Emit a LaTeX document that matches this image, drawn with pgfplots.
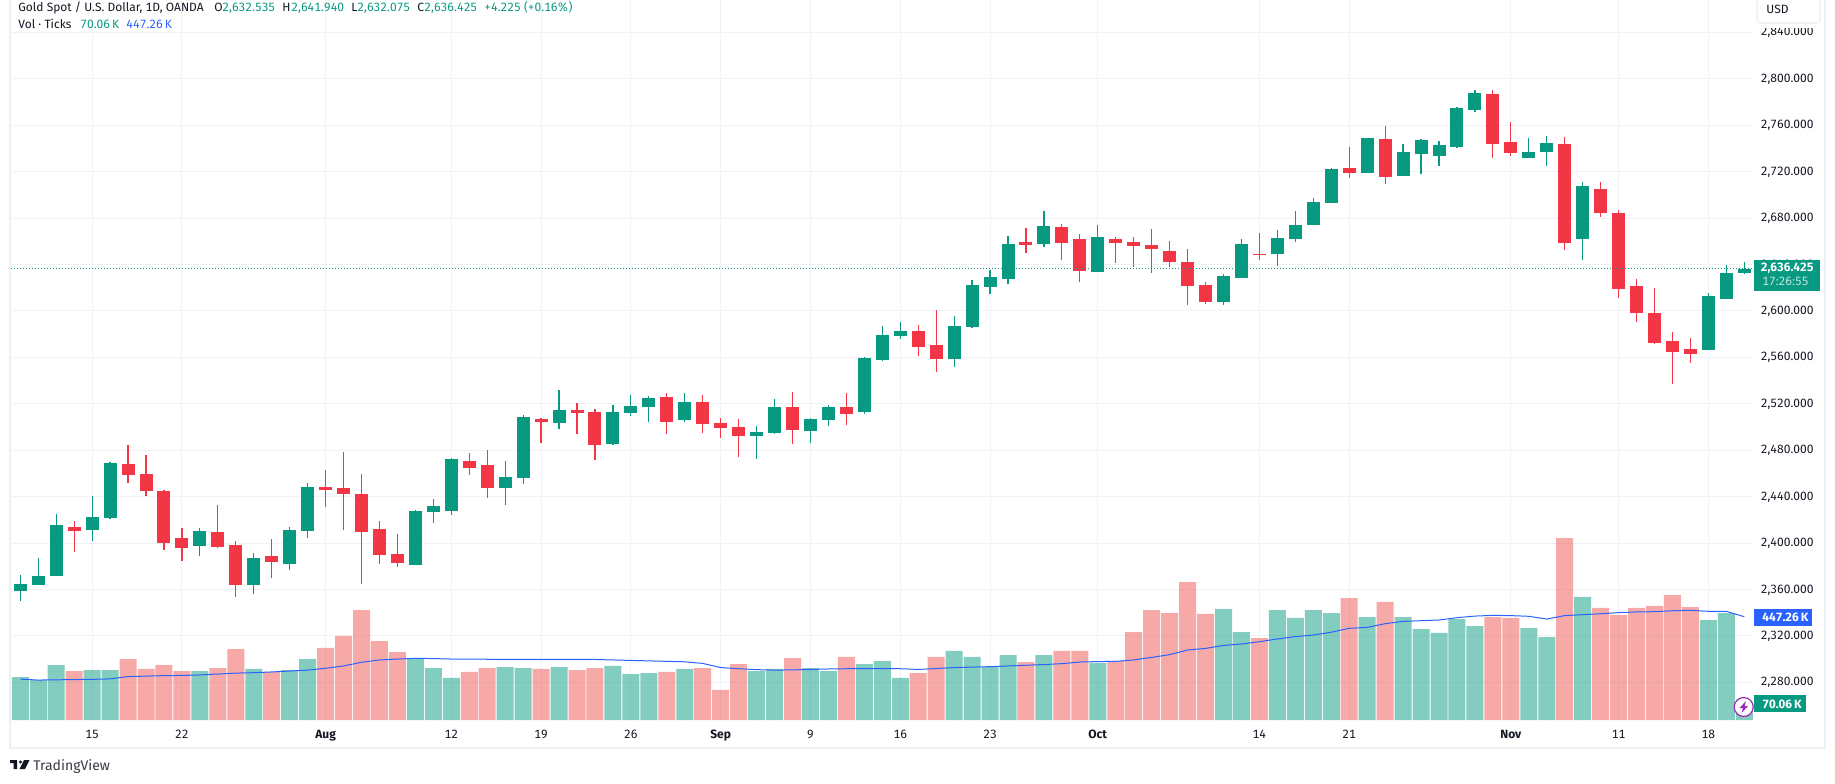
\documentclass[border=0pt]{standalone}
\usepackage{pgfplots}
\usepackage{pgfplotstable}
\usepackage{fontspec}
\pgfplotsset{compat=1.18}
\setmainfont{Fira Sans}[Numbers={Lining,Monospaced}]
\definecolor{upcol}{HTML}{089981}
\definecolor{downcol}{HTML}{F23645}
\definecolor{voldown}{HTML}{EF5350}
\definecolor{gridcol}{HTML}{F1F2F6}
\definecolor{framecol}{HTML}{EEEEF4}
\definecolor{textcol}{HTML}{131722}
\definecolor{macol}{HTML}{2962FF}
\definecolor{boltcol}{HTML}{9C27B0}

% one reference pixel = 0.5pt
\newcommand{\chartfont}{\fontsize{6}{7}\selectfont}

% daily candles, i = trading day, v = volume in K
\pgfplotstableread{
i o h l c v
0 2358.6 2372.4 2350.0 2364.7 186
1 2363.8 2387.1 2363.5 2371.6 173
2 2371.6 2425.0 2371.3 2415.5 238
4 2411.2 2440.5 2401.7 2422.4 216
5 2421.5 2469.8 2420.7 2468.9 216
10 2397.4 2412.9 2388.8 2410.3 212
13 2363.8 2391.4 2356.1 2387.1 221
15 2381.9 2413.8 2376.7 2411.2 216
16 2410.3 2451.7 2404.3 2448.2 264
22 2381.1 2428.4 2380.9 2427.6 268
23 2426.7 2437.9 2417.2 2431.9 225
24 2427.6 2473.2 2424.1 2472.4 182
27 2447.4 2470.7 2432.8 2456.9 229
28 2456.1 2510.3 2450.9 2508.6 225
30 2503.4 2531.9 2498.3 2514.6 229
33 2485.3 2518.9 2484.5 2512.9 234
34 2512.0 2527.6 2509.5 2518.1 199
35 2517.2 2526.7 2504.3 2525.0 203
37 2506.0 2529.3 2504.3 2521.5 221
41 2492.2 2500.9 2472.4 2495.7 212
42 2494.8 2524.1 2494.0 2517.2 221
44 2496.5 2507.7 2486.2 2506.9 225
45 2506.0 2518.9 2500.9 2517.2 212
47 2512.9 2560.3 2511.2 2559.4 242
48 2557.7 2587.0 2556.9 2579.3 255
49 2578.4 2590.4 2575.8 2582.7 182
52 2558.5 2595.6 2551.6 2586.9 299
53 2586.1 2626.6 2585.2 2622.3 273
54 2620.5 2635.2 2614.5 2629.2 229
55 2627.4 2664.5 2623.1 2657.6 281
57 2657.6 2686.0 2655.0 2673.1 281
60 2633.5 2674.0 2633.3 2663.6 247
67 2607.6 2631.7 2605.0 2630.0 481
68 2628.3 2661.9 2628.1 2657.6 381
70 2649.0 2669.6 2638.6 2662.8 476
71 2661.9 2686.0 2659.3 2673.9 442
72 2674.0 2697.2 2673.8 2693.8 476
73 2692.9 2723.1 2692.7 2722.2 463
75 2718.8 2749.1 2718.6 2748.9 446
77 2716.2 2743.7 2716.0 2736.8 446
78 2735.1 2748.0 2717.9 2747.2 394
79 2733.4 2746.3 2724.8 2742.9 377
80 2741.2 2775.6 2740.3 2774.8 437
81 2773.0 2790.3 2771.3 2787.7 407
84 2731.7 2748.9 2731.5 2736.8 398
85 2736.8 2750.6 2724.8 2744.6 359
87 2661.9 2711.0 2643.8 2707.5 533
94 2566.3 2615.4 2566.1 2612.8 433
95 2610.2 2639.5 2610.0 2632.6 463
96 2632.535 2641.94 2632.075 2636.425 70.06
}\upbars

\pgfplotstableread{
i o h l c v
3 2413.8 2419.0 2392.3 2410.3 212
6 2468.1 2484.4 2451.7 2458.6 264
7 2459.4 2475.8 2440.5 2444.8 221
8 2444.8 2445.7 2394.0 2400.0 238
9 2404.3 2412.9 2384.5 2395.7 212
11 2409.5 2432.7 2396.4 2396.6 225
12 2398.3 2401.7 2353.5 2363.8 307
14 2388.8 2403.4 2369.9 2383.6 208
17 2448.2 2462.9 2431.0 2445.7 312
18 2447.4 2478.4 2411.2 2442.2 364
19 2442.2 2459.4 2364.7 2409.5 476
20 2412.1 2419.0 2381.9 2389.7 342
21 2390.5 2407.8 2379.3 2382.8 294
25 2470.7 2477.6 2458.6 2464.7 208
26 2467.3 2480.2 2438.8 2447.4 225
29 2506.9 2507.7 2486.2 2504.3 221
31 2514.6 2520.7 2494.0 2512.0 216
32 2512.9 2515.5 2471.6 2484.5 225
36 2525.8 2529.3 2494.0 2504.3 208
38 2521.5 2527.6 2494.8 2502.6 225
39 2503.4 2507.7 2490.5 2499.1 130
40 2500.0 2506.9 2474.1 2492.2 242
43 2517.2 2530.1 2485.3 2497.4 268
46 2517.2 2529.3 2501.7 2511.2 273
50 2582.6 2587.8 2561.1 2568.9 203
51 2570.6 2600.7 2547.3 2558.5 273
56 2659.3 2671.4 2649.8 2656.7 251
58 2672.2 2674.8 2643.8 2658.4 299
59 2661.9 2666.2 2624.9 2634.3 299
61 2661.9 2663.6 2641.2 2658.4 255
62 2659.3 2663.6 2637.8 2655.9 381
63 2656.7 2670.5 2632.6 2653.3 476
64 2651.6 2660.2 2637.8 2642.1 463
65 2642.1 2653.3 2605.0 2621.4 597
66 2622.3 2624.9 2605.9 2607.6 459
69 2649.0 2667.1 2643.8 2648.1 355
74 2723.1 2741.2 2714.4 2718.8 528
76 2748.0 2759.2 2709.3 2715.3 511
82 2786.8 2790.3 2731.7 2743.7 446
83 2745.5 2762.7 2733.4 2736.0 442
86 2743.7 2749.8 2652.4 2658.4 788
88 2705.0 2711.0 2680.8 2684.3 485
89 2684.3 2686.9 2611.1 2618.8 455
90 2621.4 2627.4 2590.4 2598.1 485
91 2598.1 2619.7 2572.1 2572.3 494
92 2574.0 2581.8 2537.0 2564.5 541
93 2567.1 2576.6 2555.1 2562.8 489
}\downbars

% volume moving average, in K
\pgfplotstableread{
i ma
0 177
1 173
2 174
3 175
4 176
5 178
6 188
7 190
8 192
9 193
10 195
11 199
12 203
13 205
14 208
15 212
16 216
17 224
18 234
19 250
20 260
21 264
22 267
23 266
24 264
25 264
26 263
27 263
28 263
29 263
30 263
31 263
32 262
33 260
34 258
35 256
36 254
37 252
38 245
39 227
40 222
41 218
42 216
43 217
44 219
45 221
46 222
47 222
48 222
49 222
50 219
51 223
52 227
53 229
54 231
55 234
56 237
57 240
58 244
59 251
60 253
61 254
62 260
63 271
64 283
65 303
66 310
67 323
68 329
69 339
70 351
71 361
72 368
73 380
74 397
75 401
76 417
77 427
78 430
79 433
80 443
81 450
82 453
83 452
84 449
85 437
86 452
87 456
88 460
89 465
90 468
91 469
92 473
93 475
94 470.5
95 470.5
96 447.26
}\matable

\begin{document}
\begin{tikzpicture}
\path[use as bounding box] (0,0) rectangle (917.5pt,391.5pt);

% price pane
\begin{axis}[
    at={(5.5pt,31.5pt)}, anchor=south west,
    scale only axis, width=871pt, height=360pt,
    xmin=-0.518, xmax=96.486, ymin=2247.5, ymax=2867.83,
    axis line style={draw=none},
    major tick length=0pt,
    grid=major,
    grid style={gridcol, line width=0.5pt},
    xtick={4,9,17,24,29,34,39,44,49,54,60,69,74,83,89,94},
    xticklabels={15,22,\textbf{Aug},12,19,26,\textbf{Sep},9,16,23,\textbf{Oct},14,21,\textbf{Nov},11,18},
    xticklabel style={font=\chartfont, text=textcol, anchor=base, yshift=-9.15pt, inner sep=0pt},
    ytick={2280,2320,...,2840},
    yticklabel pos=right,
    scaled y ticks=false,
    yticklabel style={font=\chartfont, text=textcol, anchor=base east, xshift=30.5pt, yshift=-1.8pt, inner sep=0pt,
        /pgf/number format/.cd, fixed, fixed zerofill, precision=3, 1000 sep={,}, assume math mode=true},
]
\addplot[draw=none, no marks, error bars/.cd, y dir=both, y explicit, error mark=none,
    error bar style={draw=upcol, line width=0.6pt}]
    table[x=i, y=c, y error plus expr=\thisrow{h}-\thisrow{c}, y error minus expr=\thisrow{c}-\thisrow{l}] {\upbars};
\addplot[draw=none, no marks, error bars/.cd, y dir=minus, y explicit, error mark=none,
    error bar style={draw=upcol, line width=6.5pt}]
    table[x=i, y=c, y error minus expr=\thisrow{c}-\thisrow{o}] {\upbars};
\addplot[draw=none, no marks, error bars/.cd, y dir=both, y explicit, error mark=none,
    error bar style={draw=downcol, line width=0.6pt}]
    table[x=i, y=c, y error plus expr=\thisrow{h}-\thisrow{c}, y error minus expr=\thisrow{c}-\thisrow{l}] {\downbars};
\addplot[draw=none, no marks, error bars/.cd, y dir=plus, y explicit, error mark=none,
    error bar style={draw=downcol, line width=6.5pt}]
    table[x=i, y=c, y error plus expr=\thisrow{o}-\thisrow{c}] {\downbars};
% last price line
\addplot[upcol, line width=0.5pt, dash pattern=on 0.5pt off 1pt] coordinates {(-0.518,2636.425) (96.486,2636.425)};
\end{axis}

% volume pane on the same rectangle
\begin{axis}[
    at={(5.5pt,31.5pt)}, anchor=south west,
    scale only axis, width=871pt, height=360pt,
    xmin=-0.518, xmax=96.486, ymin=0, ymax=3117.6,
    hide axis,
    ybar, bar width=8.5pt, bar shift=0pt,
]
\addplot[draw=none, fill=upcol, fill opacity=0.5] table[x=i, y=v] {\upbars};
\addplot[draw=none, fill=voldown, fill opacity=0.5] table[x=i, y=v] {\downbars};
\addplot[sharp plot, macol, line width=0.5pt, mark=none] table[x=i, y=ma] {\matable};
\end{axis}

% everything below is in reference pixels, y down
\begin{scope}[x=0.5pt, y=-0.5pt, yshift=391.5pt, every node/.style={inner sep=0pt, font=\chartfont}]
% frame
\draw[framecol, line width=1pt] (10,-5) -- (10,747.5) -- (1825,747.5) -- (1825,-5);

% USD box
\fill[white] (1755,-3) rectangle (1822,28.5);
\draw[framecol, line width=0.6pt, rounded corners=2pt] (1757,-5) rectangle (1820,23);
\node[anchor=base west, text=textcol] at (1766,14) {USD};

% price and volume tags
\fill[upcol] (1754,260) rectangle (1820,291);
\node[anchor=base east, text=white] at (1814,272) {\textbf{2,636.425}};
\node[anchor=base west, text=white!75!upcol] at (1762,286) {17:26:55};
\fill[macol] (1754,609) rectangle (1812,626);
\node[anchor=base west, text=white] at (1762,621.7) {\textbf{447.26\,K}};
\draw[boltcol, fill=white, line width=0.6pt] (1743.7,707) circle (9.5);
\fill[boltcol] (1746,701) -- (1739.5,708) -- (1743,708) -- (1741.5,713) -- (1748,706) -- (1744.5,706) -- cycle;
\fill[upcol] (1754,695) rectangle (1806,712);
\node[anchor=base west, text=white] at (1762,708.3) {\textbf{70.06\,K}};

% legend
\node[anchor=base west, text=textcol] at (18,11.7) {Gold Spot / U.S. Dollar, 1D, OANDA};
\node[anchor=base west, text=textcol] at (214,11.7) {O};
\node[anchor=base west, text=upcol] at (222,11.7) {2,632.535};
\node[anchor=base west, text=textcol] at (282,11.7) {H};
\node[anchor=base west, text=upcol] at (291,11.7) {2,641.940};
\node[anchor=base west, text=textcol] at (351,11.7) {L};
\node[anchor=base west, text=upcol] at (357,11.7) {2,632.075};
\node[anchor=base west, text=textcol] at (417,11.7) {C};
\node[anchor=base west, text=upcol] at (424,11.7) {2,636.425};
\node[anchor=base west, text=upcol] at (484,11.7) {+4.225 (+0.16\%)};
\node[anchor=base west, text=textcol] at (18,29) {Vol · Ticks};
\node[anchor=base west, text=upcol] at (80,29) {70.06\,K};
\node[anchor=base west, text=macol] at (126,29) {447.26\,K};

% TradingView mark
\fill[textcol] (10,760) -- (17,760) -- (17,769) -- (13.7,769) -- (13.7,763) -- (10,763) -- cycle;
\fill[textcol] (20.5,762) circle (1.7);
\fill[textcol] (24,760) -- (29.5,760) -- (25,769) -- (19.5,769) -- cycle;
\node[anchor=base west, text=textcol!85!white, font=\fontsize{7}{8}\selectfont] at (33,770) {TradingView};
\end{scope}
\end{tikzpicture}
\end{document}
